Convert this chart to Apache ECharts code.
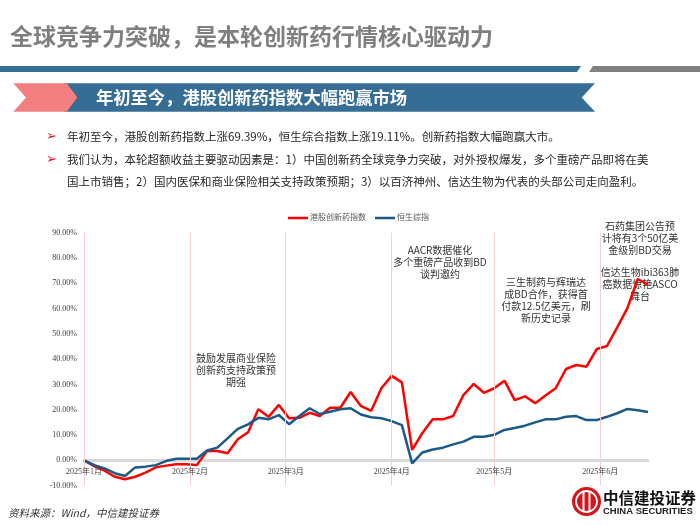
<!DOCTYPE html>
<html>
<head>
<meta charset="utf-8">
<script src="https://cdn.jsdelivr.net/npm/echarts@6.0.0/dist/echarts.min.js"></script>
<style>
  html, body { margin: 0; padding: 0; background: #fff; }
  #main { width: 700px; height: 525px; }
</style>
</head>
<body>
<div id="main"></div>
<script>
// sampling dates (every 3 days)
var dates = ['2025-01-01','2025-01-04','2025-01-07','2025-01-10','2025-01-13','2025-01-16','2025-01-19','2025-01-22','2025-01-25','2025-01-28','2025-01-31',
  '2025-02-03','2025-02-06','2025-02-09','2025-02-12','2025-02-15','2025-02-18','2025-02-21','2025-02-24','2025-02-27',
  '2025-03-02','2025-03-05','2025-03-08','2025-03-11','2025-03-14','2025-03-17','2025-03-20','2025-03-23','2025-03-26','2025-03-29',
  '2025-04-01','2025-04-04','2025-04-07','2025-04-10','2025-04-13','2025-04-16','2025-04-19','2025-04-22','2025-04-25','2025-04-28',
  '2025-05-01','2025-05-04','2025-05-07','2025-05-10','2025-05-13','2025-05-16','2025-05-19','2025-05-22','2025-05-25','2025-05-28','2025-05-31',
  '2025-06-03','2025-06-06','2025-06-09','2025-06-12','2025-06-15'];
// 港股创新药指数, cumulative %
var innovDrug = [0, -2.3, -4.1, -6.5, -7.5, -6.5, -4.9, -2.8, -2.1, -1.6, -1.6,
  -1.9, 3.7, 3.7, 2.8, 8.3, 11.1, 20.2, 17.2, 21.9,
  16.6, 16.8, 18.8, 17.5, 20.8, 20.8, 27.0, 21.5, 19.5, 28.5,
  33.4, 30.8, 4.1, 10.8, 16.2, 16.2, 17.5, 25.8, 30.2, 26.7,
  28.5, 31.5, 23.8, 25.3, 22.6, 25.6, 28.5, 36.1, 37.7, 37.0, 44.0,
  45.2, 52.6, 60.3, 71.7, 69.39];
// 恒生综指, cumulative %
var hsci = [0, -1.9, -3.2, -5.1, -6.2, -2.8, -2.5, -1.9, -0.3, 0.6, 0.6,
  0.6, 3.9, 5.0, 8.7, 12.4, 14.2, 16.8, 16.2, 17.9,
  14.3, 17.5, 20.6, 18.3, 19.2, 20.2, 20.6, 18.1, 17.0, 16.6,
  15.5, 13.9, -1.2, 3.1, 4.3, 5.0, 6.3, 7.4, 9.3, 9.3,
  10.1, 12.0, 12.8, 13.7, 15.0, 16.2, 16.2, 17.2, 17.5, 15.9, 15.9,
  17.2, 18.6, 20.3, 19.8, 19.11];
var seriesNames = ['港股创新药指数', '恒生综指'];
// month ticks and their labels
var monthTicks = ['2025-01-01', '2025-02-01', '2025-03-01', '2025-04-01', '2025-05-01', '2025-06-01'];
var monthLabels = ['2025年1月', '2025年2月', '2025年3月', '2025年4月', '2025年5月', '2025年6月'];
var xStart = '2025-01-01', xEnd = '2025-06-15';
var yMin = -10, yMax = 90, yStep = 10;

var serif = '"Liberation Serif", "Noto Sans CJK SC", serif';
var sans = '"Noto Sans CJK SC", sans-serif';
var blue = '#356d94';

// day offset from the start date
function day(s) {
  return Math.round((new Date(s + 'T00:00:00') - new Date(xStart + 'T00:00:00')) / 86400000);
}
function txt(text, x, y, size, color, opt) {
  opt = opt || {};
  var st = {
    text: text, x: x, y: y, fill: color,
    fontSize: size, fontFamily: opt.family || sans,
    fontWeight: opt.weight || 'normal', fontStyle: opt.style || 'normal',
    align: opt.align || 'left', verticalAlign: 'middle',
    textAlign: opt.align || 'left', textVerticalAlign: 'middle'
  };
  if (opt.lineHeight) st.lineHeight = opt.lineHeight;
  return { type: 'text', z: 1, style: st };
}
function poly(points, color) {
  return { type: 'polygon', z: 1, shape: { points: points }, style: { fill: color } };
}
function note(text, x, y) {
  return txt(text, x, y, 10, '#333333', { align: 'center', lineHeight: 12 });
}
function pairs(vals) {
  return dates.map(function (d, i) { return [day(d), vals[i]]; });
}

var tickDays = monthTicks.map(day);
var myChart = echarts.init(document.getElementById('main'));
var option = {
  backgroundColor: '#ffffff',
  animation: false,
  grid: { left: 84, right: 52, top: 232.7, bottom: 39.4, containLabel: false },
  legend: {
    data: seriesNames,
    left: 283, top: 209,
    icon: 'rect', itemWidth: 20, itemHeight: 2.5, itemGap: 9,
    textStyle: { fontSize: 8, color: '#595959', fontFamily: serif, padding: [0, 0, 0, -3] }
  },
  xAxis: {
    type: 'value',
    min: 0, max: day(xEnd),
    axisLine: { onZero: true, lineStyle: { color: '#d9d9d9', width: 3 } },
    axisTick: { show: false },
    axisLabel: { show: false },
    splitLine: { show: false }
  },
  yAxis: {
    type: 'value', min: yMin, max: yMax, interval: yStep,
    axisLine: { show: false }, axisTick: { show: false }, splitLine: { show: false },
    axisLabel: {
      margin: 7, fontSize: 8, color: '#404040', fontFamily: serif,
      formatter: function (v) { return v.toFixed(2) + '%'; }
    }
  },
  series: [
    // month grid lines and month labels
    { name: 'months', type: 'line', data: [], z: 1, silent: true,
      markLine: {
        silent: true, symbol: ['none', 'none'], label: { show: false },
        lineStyle: { color: '#f9d0d0', width: 1, type: 'solid' },
        data: tickDays.map(function (d) { return { xAxis: d }; })
      },
      markPoint: {
        silent: true, symbol: 'rect', symbolSize: 0,
        label: { show: true, position: 'bottom', distance: 8, formatter: '{b}',
          fontSize: 8, color: '#404040', fontFamily: serif },
        data: tickDays.map(function (d, i) { return { name: monthLabels[i], coord: [d, 0] }; })
      }
    },
    { name: seriesNames[0], type: 'line', data: pairs(innovDrug), showSymbol: false, symbol: 'none',
      itemStyle: { color: '#ff0000' }, lineStyle: { color: '#ff0000', width: 2.5 } },
    { name: seriesNames[1], type: 'line', data: pairs(hsci), showSymbol: false, symbol: 'none',
      itemStyle: { color: '#1b5a87' }, lineStyle: { color: '#1b5a87', width: 2.5 } }
  ],
  graphic: [
    txt('全球竞争力突破，是本轮创新药行情核心驱动力', 10, 36, 23, '#7f7f7f', { weight: 'bold' }),
    poly([[0, 66], [581, 66], [577, 72], [0, 72]], blue),
    poly([[593, 66], [700, 66], [700, 72], [589, 72]], '#808080'),
    poly([[64, 83.3], [595, 83.3], [581.7, 97.5], [595, 111.7], [64, 111.7]], blue),
    poly([[13.3, 83.3], [66.7, 83.3], [77.3, 97.5], [66.7, 111.7], [13.3, 111.7], [26, 97.5]], '#f47f81'),
    txt('年初至今，港股创新药指数大幅跑赢市场', 96, 97.5, 17.3, '#ffffff', { weight: 'bold' }),
    txt('➢', 46, 137, 13, '#e8141b', { family: '"DejaVu Sans", sans-serif' }),
    txt('年初至今，港股创新药指数上涨69.39%，恒生综合指数上涨19.11%。创新药指数大幅跑赢大市。', 67, 137, 11.5, '#262626'),
    txt('➢', 46, 159.5, 13, '#e8141b', { family: '"DejaVu Sans", sans-serif' }),
    txt('我们认为，本轮超额收益主要驱动因素是：1）中国创新药全球竞争力突破，对外授权爆发，多个重磅产品即将在美', 67, 159.5, 11.5, '#262626'),
    txt('国上市销售；2）国内医保和商业保险相关支持政策预期；3）以百济神州、信达生物为代表的头部公司走向盈利。', 67, 181.5, 11.5, '#262626'),
    note('鼓励发展商业保险\n创新药支持政策预\n期强', 236, 370.5),
    note('AACR数据催化\n多个重磅产品收到BD\n谈判邀约', 440, 262.5),
    note('三生制药与辉瑞达\n成BD合作，获得首\n付款12.5亿美元，刷\n新历史记录', 546, 300),
    note('石药集团公告预\n计将有3个50亿美\n金级别BD交易', 640, 238.3),
    note('信达生物ibi363肺\n癌数据惊艳ASCO\n舞台', 640, 284.7),
    txt('资料来源：Wind，中信建投证券', 8, 513, 10.5, '#333333', { style: 'italic' }),
    { type: 'circle', z: 1, shape: { cx: 586.5, cy: 501.5, r: 14.5 }, style: { fill: '#d7141a' } },
    { type: 'circle', z: 1, shape: { cx: 586.5, cy: 501.5, r: 10.5 }, style: { fill: 'none', stroke: '#ffffff', lineWidth: 1.8 } },
    { type: 'rect', z: 1, shape: { x: 582.5, y: 492, width: 2, height: 19 }, style: { fill: '#ffffff' } },
    { type: 'rect', z: 1, shape: { x: 588.5, y: 492, width: 2, height: 19 }, style: { fill: '#ffffff' } },
    txt('中信建投证券', 603, 498.5, 15.5, '#111111', { weight: 'bold' }),
    txt('CHINA SECURITIES', 603, 511, 9.5, '#222222', { weight: 'bold', family: '"Liberation Sans", sans-serif' })
  ]
};
myChart.setOption(option);
</script>
</body>
</html>
